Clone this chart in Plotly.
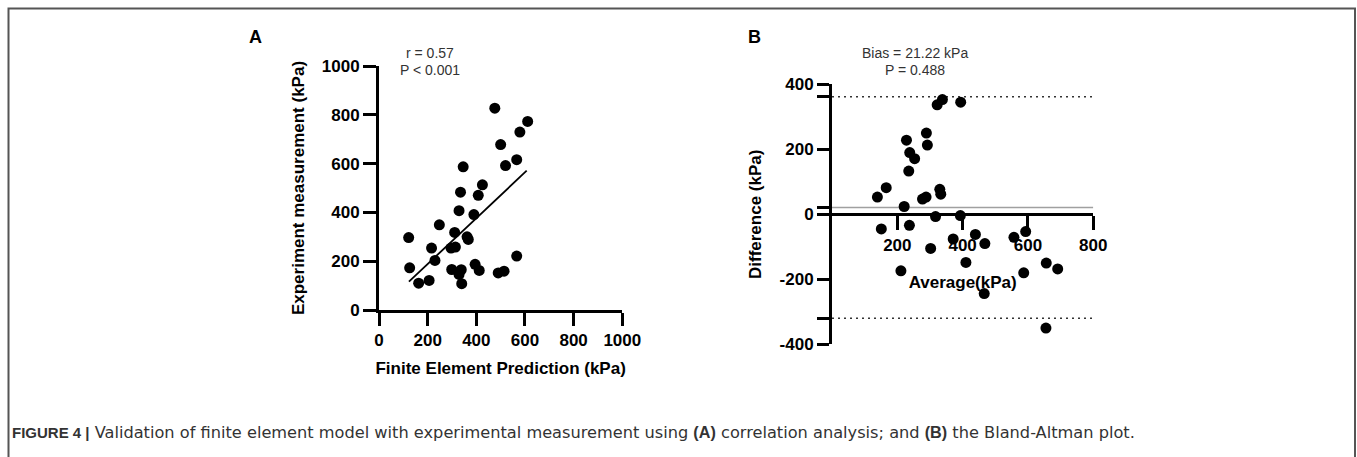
import plotly.graph_objects as go

W, H = 1357, 457

# ---------------- data ----------------
# Panel A: correlation analysis
fe_pred = [476, 611, 579, 500, 566, 520, 346, 425, 408, 335, 329, 390, 248, 122, 311, 362,
           367, 216, 296, 314, 230, 126, 299, 338, 329, 395, 412, 490, 514, 566, 163, 206, 340]
exp_meas = [827, 773, 729, 678, 616, 592, 587, 513, 470, 483, 407, 391, 349, 297, 318, 300,
            289, 254, 254, 258, 203, 173, 166, 165, 146, 187, 162, 152, 159, 221, 110, 121, 108]
fit_x = [123, 607]
fit_y = [116, 571]
r_text = ["r = 0.57", "P < 0.001"]

# Panel B: Bland-Altman
ba_avg = [338, 322, 394, 289, 292, 228, 238, 253, 235, 166, 139, 330, 333, 277, 288, 221,
          317, 393, 151, 237, 371, 439, 468, 557, 593, 302, 410, 211, 587, 656, 691, 466, 655]
ba_diff = [353, 337, 345, 250, 213, 228, 190, 171, 133, 82, 53, 77, 62, 47, 53, 24,
           -7, -4, -45, -34, -76, -62, -90, -71, -53, -105, -148, -174, -180, -150, -168, -244, -350]
bias = 21.22
loa_upper = 362
loa_lower = -320
ba_p = "P = 0.488"

ticks_a = [0, 200, 400, 600, 800, 1000]
ticks_bx = [200, 400, 600, 800]
ticks_by = [-400, -200, 0, 200, 400]

FONT = "Liberation Sans, Arial, Helvetica, sans-serif"


def fx(px):
    return px / W


def fy(py):
    return 1 - py / H


tick_font = dict(family=FONT, size=17, color="black", weight="bold")
title_font = dict(family=FONT, size=17, color="black", weight="bold")

fig = go.Figure()

# Panel A
fig.add_trace(go.Scatter(x=fit_x, y=fit_y, mode="lines", line=dict(color="black", width=1.8),
                         xaxis="x", yaxis="y", showlegend=False, hoverinfo="skip"))
fig.add_trace(go.Scatter(x=fe_pred, y=exp_meas, mode="markers",
                         marker=dict(size=11, color="black"),
                         xaxis="x", yaxis="y", showlegend=False, cliponaxis=False))

# Panel B
fig.add_trace(go.Scatter(x=ba_avg, y=ba_diff, mode="markers",
                         marker=dict(size=11, color="black"),
                         xaxis="x2", yaxis="y2", showlegend=False, cliponaxis=False))

axis_common = dict(showline=True, linewidth=3, linecolor="black", ticks="outside",
                   tickwidth=3, tickcolor="black", showgrid=False, zeroline=False,
                   tickfont=tick_font, automargin=False, fixedrange=True)

# B y ticks: include bias & limits as unlabeled ticks
by_vals = sorted(ticks_by + [bias, loa_upper, loa_lower])
by_text = [str(v) if v in ticks_by else "" for v in by_vals]

fig.update_layout(
    width=W, height=H,
    margin=dict(l=0, r=0, t=0, b=0),
    paper_bgcolor="white", plot_bgcolor="rgba(0,0,0,0)",
    template="none",
    font=dict(family=FONT),
    xaxis=dict(domain=[fx(379), fx(622.3)], range=[0, 1000], tickvals=ticks_a,
               ticklen=13, anchor="y",
               title=dict(text="Finite Element Prediction (kPa)", font=title_font, standoff=13),
               **axis_common),
    yaxis=dict(domain=[fy(310), fy(66)], range=[0, 1000], tickvals=ticks_a,
               ticklen=13, anchor="x",
               title=dict(text="Experiment measurement (kPa)", font=title_font, standoff=13),
               **axis_common),
    xaxis2=dict(domain=[fx(832), fx(1093.3)], range=[0, 800], tickvals=ticks_bx,
                ticklen=14, anchor="free", position=fy(214.3),
                title=dict(text="Average(kPa)", font=title_font, standoff=22),
                **axis_common),
    yaxis2=dict(domain=[fy(344.3), fy(84.3)], range=[-400, 400], tickvals=by_vals,
                ticktext=by_text, ticklen=12, anchor="x2",
                title=dict(text="Difference (kPa)", font=title_font, standoff=14),
                **axis_common),
)

shapes = [
    # frame
    dict(type="path", xref="paper", yref="paper",
         path=f"M {fx(8.5)} {fy(460)} L {fx(8.5)} {fy(8.5)} L {fx(1355)} {fy(8.5)} L {fx(1355)} {fy(460)}",
         line=dict(color="#555555", width=2)),
    # bias line
    dict(type="line", xref="x2", yref="y2", x0=0, x1=800, y0=bias, y1=bias,
         line=dict(color="#a0a0a0", width=1.5), layer="below"),
    dict(type="line", xref="x2", yref="y2", x0=0, x1=800, y0=loa_upper, y1=loa_upper,
         line=dict(color="#333333", width=1.5, dash="2px,4px"), layer="below"),
    dict(type="line", xref="x2", yref="y2", x0=0, x1=800, y0=loa_lower, y1=loa_lower,
         line=dict(color="#333333", width=1.5, dash="2px,4px"), layer="below"),
]
fig.update_layout(shapes=shapes)

ann_font = dict(family=FONT, size=14, color="#333333")
annotations = [
    dict(text="A", x=fx(255), y=fy(37), font=dict(family=FONT, size=18, color="black", weight="bold")),
    dict(text="B", x=fx(755), y=fy(37), font=dict(family=FONT, size=18, color="black", weight="bold")),
    dict(text=r_text[0], x=fx(430), y=fy(52.7), font=ann_font),
    dict(text=r_text[1], x=fx(430), y=fy(70), font=ann_font),
    dict(text=f"Bias = {bias:.2f} kPa", x=fx(915), y=fy(52.7), font=ann_font),
    dict(text=ba_p, x=fx(915), y=fy(70), font=ann_font),
]
for a in annotations:
    a.update(xref="paper", yref="paper", showarrow=False, xanchor="center", yanchor="middle")

caption = ('<span style="font-family:Liberation Sans;font-size:15px"><b>FIGURE 4 |</b></span> '
           'Validation of finite element model with experimental measurement using '
           '<span style="font-family:Liberation Sans"><b>(A)</b></span> correlation analysis; and '
           '<span style="font-family:Liberation Sans"><b>(B)</b></span> the Bland-Altman plot.')
annotations.append(dict(text=caption, x=fx(10), y=fy(432), xref="paper", yref="paper",
                        showarrow=False, xanchor="left", yanchor="middle",
                        font=dict(family="DejaVu Sans", size=16.2, color="#333333")))
fig.update_layout(annotations=annotations)

fig.write_html("out.html", config={"displayModeBar": False})
